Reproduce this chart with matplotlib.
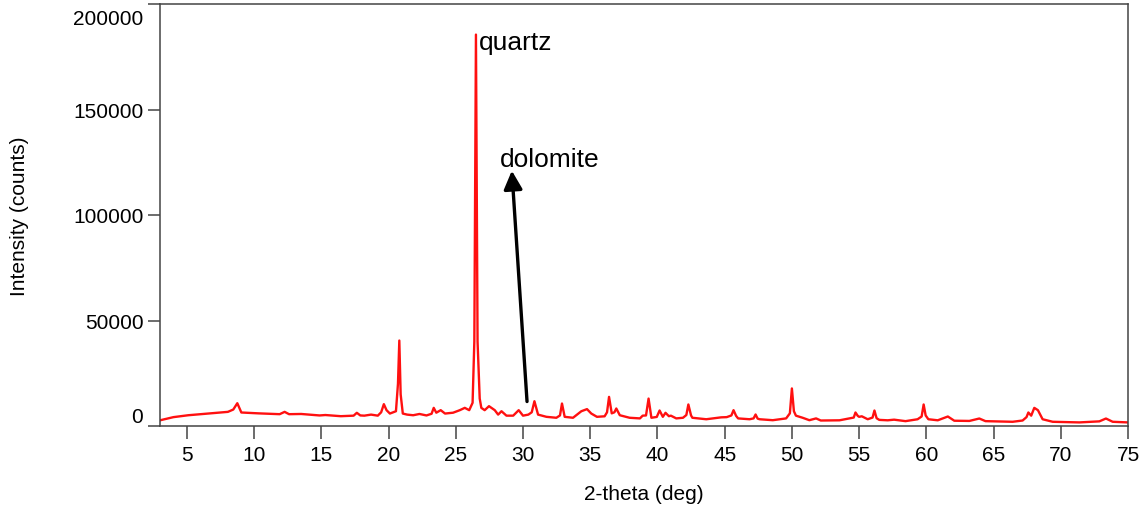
import matplotlib.pyplot as plt
import matplotlib.transforms as mtransforms

plt.rcParams['font.family'] = ['Liberation Sans', 'DejaVu Sans']

# 2-theta (deg) and intensity (counts)
two_theta = [
    3.0, 4.0, 5.1, 6.6, 8.05, 8.45, 8.75, 9.05, 10.3, 11.9, 12.27, 12.6, 13.5,
    14.87, 15.3, 16.45, 17.4, 17.64, 17.9, 18.2, 18.7, 19.2, 19.45, 19.65, 19.85,
    20.1, 20.55, 20.7, 20.8, 20.9, 21.06, 21.38, 21.83, 22.3, 22.82, 23.2, 23.36,
    23.55, 23.88, 24.2, 24.8, 25.3, 25.67, 26.0, 26.25, 26.38, 26.5, 26.62, 26.78,
    26.9, 27.15, 27.47, 27.9, 28.15, 28.4, 28.77, 29.27, 29.68, 30.0, 30.4, 30.65,
    30.85, 31.12, 31.74, 32.48, 32.75, 32.9, 33.1, 33.72, 34.34, 34.76, 35.08, 35.5,
    36.07, 36.25, 36.4, 36.6, 36.8, 36.94, 37.2, 37.93, 38.7, 38.9, 39.15, 39.34,
    39.55, 39.95, 40.16, 40.4, 40.6, 40.85, 41.0, 41.4, 41.9, 42.15, 42.3, 42.5,
    42.6, 43.63, 44.74, 45.15, 45.5, 45.66, 45.85, 46.0, 46.85, 47.15, 47.3, 47.45,
    47.6, 48.58, 49.57, 49.85, 50.0, 50.15, 50.3, 50.8, 51.3, 51.8, 52.15, 53.54,
    54.28, 54.6, 54.73, 54.9, 55.0, 55.2, 55.64, 56.0, 56.14, 56.3, 56.5, 57.13,
    57.6, 58.45, 58.87, 59.35, 59.65, 59.8, 59.95, 60.15, 60.85, 61.6, 62.08, 63.2,
    63.94, 64.4, 66.42, 67.16, 67.45, 67.59, 67.8, 68.03, 68.3, 68.65, 69.4, 71.38,
    72.87, 73.36, 73.86, 75.0,
]
intensity = [
    2700, 4200, 5100, 5900, 6700, 7800, 10800, 6400, 6000, 5600, 6700, 5600, 5700,
    5000, 5200, 4650, 4900, 6250, 5000, 4900, 5400, 4900, 6500, 10350, 7500,
    5900, 7000, 20000, 40500, 15000, 5900, 5400, 5100, 5700, 5000, 5800, 8600,
    6300, 7500, 5900, 6300, 7500, 8600, 7500, 11000, 40000, 185500, 40000, 13000,
    8600, 7500, 9400, 7500, 5400, 7000, 4900, 4900, 7500, 4900, 5400, 6500,
    11750, 5400, 4350, 3900, 5000, 10650, 4350, 3900, 7000, 8000, 5900, 4350,
    4600, 6500, 13800, 6000, 6500, 8300, 5100, 3900, 3600, 4900, 5000, 13000,
    3900, 4300, 7350, 4350, 6250, 4650, 4900, 3600, 3900, 5200, 10200, 5000,
    3900, 3200, 4100, 4200, 5000, 7500, 4800, 3600, 3200, 3600, 5450, 3500,
    3200, 2750, 3600, 6000, 17800, 7000, 4900, 3900, 2750, 3600, 2600, 2700,
    3600, 4000, 6400, 4800, 4350, 4600, 3200, 4000, 7350, 3700, 2900, 2700,
    3000, 2300, 2700, 3200, 4500, 10200, 5000, 3200, 2700, 4500, 2500, 2400,
    3550, 2300, 2000, 2600, 4200, 6400, 4900, 8600, 7500, 3200, 2000, 1700,
    2200, 3550, 2000, 1700,
]

y_ticks = [0, 50000, 100000, 150000, 200000]
x_ticks = list(range(5, 80, 5))

fig = plt.figure(figsize=(11.46, 5.06), dpi=100)
ax = fig.add_axes([160 / 1146, 1 - 427 / 506, (1128 - 160) / 1146, (427 - 5) / 506])

ax.plot(two_theta, intensity, color='#ff1010', lw=1.7)

ax.set_xlim(3, 75)
ax.set_ylim(0, 200000)
ax.set_xticks(x_ticks)
ax.set_yticks(y_ticks)
ax.set_yticklabels([str(v) for v in y_ticks])

for side in ['left', 'bottom', 'top', 'right']:
    ax.spines[side].set_color('#444444')
    ax.spines[side].set_linewidth(1.1)
ax.tick_params(axis='both', direction='out', length=9, width=1.1, color='#444444',
               labelsize=15, pad=3)
ax.tick_params(axis='x', pad=5)

# keep end labels of the y axis inside the frame (Igor style)
labels = ax.get_yticklabels()
labels[0].set_transform(labels[0].get_transform() +
                        mtransforms.ScaledTranslation(0, 0.11, fig.dpi_scale_trans))
labels[-1].set_transform(labels[-1].get_transform() +
                         mtransforms.ScaledTranslation(0, -0.13, fig.dpi_scale_trans))

ax.set_xlabel('2-theta (deg)', fontsize=15, labelpad=14)
ax.set_ylabel('Intensity (counts)', fontsize=15, labelpad=32)

ax.text(26.75, 182000, 'quartz', fontsize=19, va='center', ha='left')
ax.text(28.25, 126500, 'dolomite', fontsize=19, va='center', ha='left')
ax.annotate('', xy=(29.17, 121000), xytext=(30.3, 11600),
            arrowprops=dict(arrowstyle='-|>', color='black', lw=2.4,
                            mutation_scale=28, shrinkA=0, shrinkB=0))

fig.savefig('out.png', dpi=100)
